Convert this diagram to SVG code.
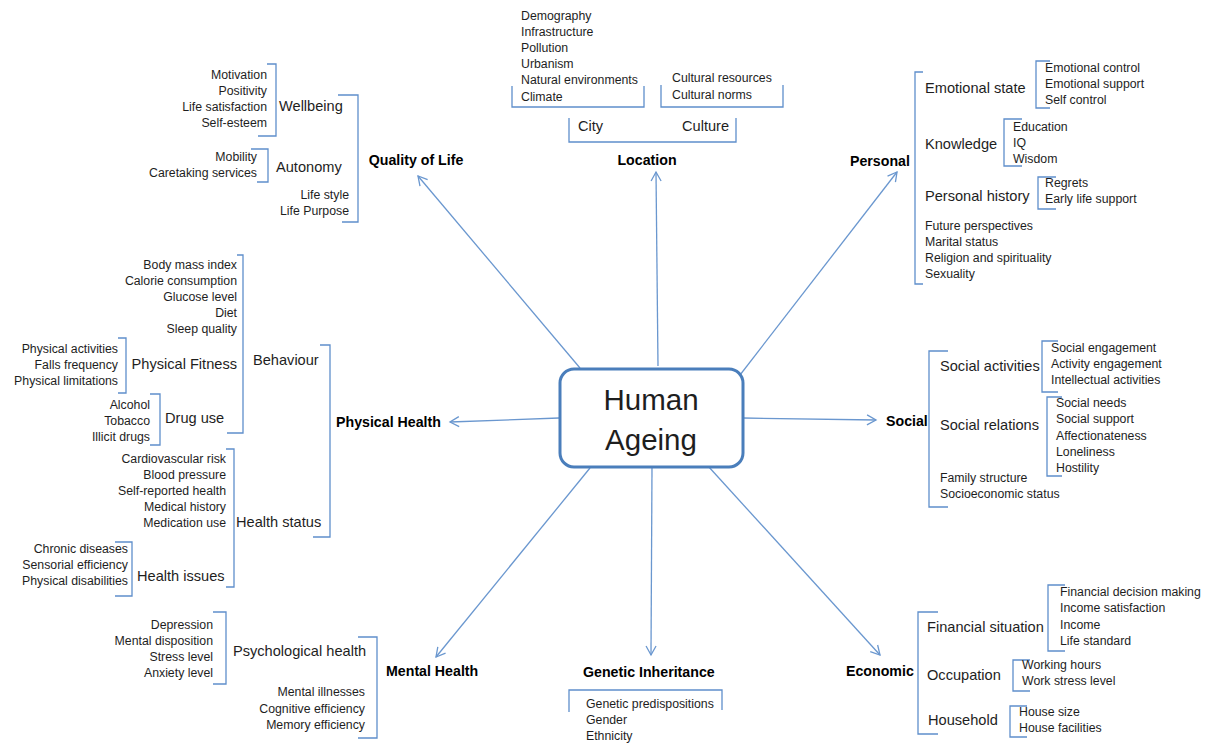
<svg xmlns="http://www.w3.org/2000/svg" width="1207" height="745" viewBox="0 0 1207 745">
<style>
text{font-family:"Liberation Sans",Arial,sans-serif;fill:#1e1e1e}
.s{font-size:12.3px}
.m{font-size:14.6px}
.b{font-size:14.2px;font-weight:bold;fill:#000}
.e{text-anchor:end}
.c{text-anchor:middle}
.br{fill:none;stroke:#5f8fcb;stroke-width:1.3}
.ar{fill:none;stroke:#6a97cf;stroke-width:1.3;marker-end:url(#ah)}
</style>
<defs>
<marker id="ah" markerWidth="12" markerHeight="12" refX="10" refY="6" orient="auto" markerUnits="userSpaceOnUse">
<path d="M1,1 L10,6 L1,11" fill="none" stroke="#6a97cf" stroke-width="1.3"/>
</marker>
</defs>
<rect width="1207" height="745" fill="#fff"/>

<g id="connectors">
<line class="ar" x1="580" y1="368" x2="418" y2="176"/>
<line class="ar" x1="658" y1="366" x2="656" y2="172"/>
<line class="ar" x1="740" y1="375" x2="897" y2="172"/>
<line class="ar" x1="559" y1="418" x2="450" y2="422"/>
<line class="ar" x1="743" y1="418" x2="876" y2="420"/>
<line class="ar" x1="590" y1="468" x2="436" y2="657"/>
<line class="ar" x1="652" y1="468" x2="651" y2="655"/>
<line class="ar" x1="708" y1="466" x2="880" y2="655"/>
</g>

<g id="center">
<rect x="560" y="369" width="183" height="98" rx="14" fill="#fff" stroke="#4a7ebb" stroke-width="3"/>
<text class="c" x="651" y="410" font-size="29.5">Human</text>
<text class="c" x="651" y="450" font-size="29.5">Ageing</text>
</g>

<g id="quality-of-life">
<text class="b c" x="416" y="165">Quality of Life</text>
<path class="br" d="M338 95 H358 V222 H342"/>
<path class="br" d="M267 64 H276 V136 H258"/>
<text class="m" x="279" y="111">Wellbeing</text>
<text class="s e" x="267" y="79">Motivation</text>
<text class="s e" x="267" y="95">Positivity</text>
<text class="s e" x="267" y="111">Life satisfaction</text>
<text class="s e" x="267" y="127">Self-esteem</text>
<path class="br" d="M251 149 H268 V182 H257"/>
<text class="m" x="276" y="172">Autonomy</text>
<text class="s e" x="257" y="161">Mobility</text>
<text class="s e" x="257" y="177">Caretaking services</text>
<text class="s e" x="349" y="199">Life style</text>
<text class="s e" x="349" y="215">Life Purpose</text>
</g>

<g id="location">
<text class="b c" x="647" y="165">Location</text>
<text class="s" x="521" y="20">Demography</text>
<text class="s" x="521" y="36">Infrastructure</text>
<text class="s" x="521" y="52">Pollution</text>
<text class="s" x="521" y="68">Urbanism</text>
<text class="s" x="521" y="84">Natural environments</text>
<text class="s" x="521" y="101">Climate</text>
<path class="br" d="M512 86 V107 H644 V86"/>
<text class="s" x="672" y="82">Cultural resources</text>
<text class="s" x="672" y="99">Cultural norms</text>
<path class="br" d="M661 85 V107 H783 V85"/>
<path class="br" d="M569 118 V142 H736 V118"/>
<text class="m" x="578" y="131">City</text>
<text class="m" x="682" y="131">Culture</text>
</g>

<g id="personal">
<text class="b" x="850" y="166">Personal</text>
<path class="br" d="M923 72 H915 V284 H923"/>
<text class="m" x="925" y="93">Emotional  state</text>
<path class="br" d="M1050 61 H1036 V108 H1050"/>
<text class="s" x="1045" y="72">Emotional control</text>
<text class="s" x="1045" y="88">Emotional support</text>
<text class="s" x="1045" y="104">Self control</text>
<text class="m" x="925" y="149">Knowledge</text>
<path class="br" d="M1022 119 H1004 V166 H1022"/>
<text class="s" x="1013" y="131">Education</text>
<text class="s" x="1013" y="147">IQ</text>
<text class="s" x="1013" y="163">Wisdom</text>
<text class="m" x="925" y="201">Personal history</text>
<path class="br" d="M1056 177 H1038 V209 H1056"/>
<text class="s" x="1045" y="187">Regrets</text>
<text class="s" x="1045" y="203">Early life support</text>
<text class="s" x="925" y="230">Future perspectives</text>
<text class="s" x="925" y="246">Marital status</text>
<text class="s" x="925" y="262">Religion and spirituality</text>
<text class="s" x="925" y="278">Sexuality</text>
</g>

<g id="physical-health">
<text class="b" x="336" y="427">Physical Health</text>
<path class="br" d="M320 345 H330 V537 H313"/>
<text class="m" x="253" y="365">Behaviour</text>
<path class="br" d="M237 255 H243 V433 H227"/>
<text class="s e" x="237" y="269">Body mass index</text>
<text class="s e" x="237" y="285">Calorie consumption</text>
<text class="s e" x="237" y="301">Glucose level</text>
<text class="s e" x="237" y="317">Diet</text>
<text class="s e" x="237" y="333">Sleep quality</text>
<text class="m e" x="237" y="369">Physical Fitness</text>
<path class="br" d="M118 338 H126 V393 H118"/>
<text class="s e" x="118" y="353">Physical activities</text>
<text class="s e" x="118" y="369">Falls frequency</text>
<text class="s e" x="118" y="385">Physical limitations</text>
<path class="br" d="M150 394 H160 V445 H150"/>
<text class="s e" x="150" y="409">Alcohol</text>
<text class="s e" x="150" y="425">Tobacco</text>
<text class="s e" x="150" y="441">Illicit drugs</text>
<text class="m" x="165" y="423">Drug use</text>
<path class="br" d="M226 449 H234 V587 H226"/>
<text class="s e" x="226" y="463">Cardiovascular risk</text>
<text class="s e" x="226" y="479">Blood pressure</text>
<text class="s e" x="226" y="495">Self-reported health</text>
<text class="s e" x="226" y="511">Medical history</text>
<text class="s e" x="226" y="527">Medication use</text>
<text class="m" x="236" y="527">Health status</text>
<path class="br" d="M115 542 H132 V596 H115"/>
<text class="s e" x="128" y="553">Chronic diseases</text>
<text class="s e" x="128" y="569">Sensorial efficiency</text>
<text class="s e" x="128" y="585">Physical disabilities</text>
<text class="m" x="137" y="581">Health issues</text>
</g>

<g id="mental-health">
<text class="b" x="386" y="676">Mental Health</text>
<path class="br" d="M213 612 H226 V684 H213"/>
<text class="s e" x="213" y="629">Depression</text>
<text class="s e" x="213" y="645">Mental disposition</text>
<text class="s e" x="213" y="661">Stress level</text>
<text class="s e" x="213" y="677">Anxiety level</text>
<text class="m" x="233" y="656">Psychological health</text>
<path class="br" d="M358 637 H377 V738 H358"/>
<text class="s e" x="365" y="696">Mental illnesses</text>
<text class="s e" x="365" y="713">Cognitive efficiency</text>
<text class="s e" x="365" y="729">Memory efficiency</text>
</g>

<g id="genetic-inheritance">
<text class="b" x="583" y="677">Genetic Inheritance</text>
<path class="br" d="M569 712 V690 H722 V710"/>
<text class="s" x="586" y="708">Genetic predispositions</text>
<text class="s" x="586" y="724">Gender</text>
<text class="s" x="586" y="740">Ethnicity</text>
</g>

<g id="social">
<text class="b" x="886" y="426">Social</text>
<path class="br" d="M948 351 H929 V507 H948"/>
<text class="m" x="940" y="371">Social activities</text>
<path class="br" d="M1058 341 H1042 V392 H1058"/>
<text class="s" x="1051" y="352">Social engagement</text>
<text class="s" x="1051" y="368">Activity engagement</text>
<text class="s" x="1051" y="384">Intellectual activities</text>
<text class="m" x="940" y="430">Social relations</text>
<path class="br" d="M1062 397 H1047 V476 H1062"/>
<text class="s" x="1056" y="407">Social needs</text>
<text class="s" x="1056" y="423">Social support</text>
<text class="s" x="1056" y="440">Affectionateness</text>
<text class="s" x="1056" y="456">Loneliness</text>
<text class="s" x="1056" y="472">Hostility</text>
<text class="s" x="940" y="482">Family structure</text>
<text class="s" x="940" y="498">Socioeconomic status</text>
</g>

<g id="economic">
<text class="b" x="846" y="676">Economic</text>
<path class="br" d="M938 612 H918 V734 H938"/>
<text class="m" x="927" y="632">Financial situation</text>
<path class="br" d="M1065 585 H1048 V651 H1065"/>
<text class="s" x="1060" y="596">Financial decision making</text>
<text class="s" x="1060" y="612">Income satisfaction</text>
<text class="s" x="1060" y="629">Income</text>
<text class="s" x="1060" y="645">Life standard</text>
<text class="m" x="927" y="680">Occupation</text>
<path class="br" d="M1030 660 H1013 V691 H1030"/>
<text class="s" x="1022" y="669">Working hours</text>
<text class="s" x="1022" y="685">Work stress level</text>
<text class="m" x="928" y="725">Household</text>
<path class="br" d="M1027 706 H1010 V737 H1027"/>
<text class="s" x="1019" y="716">House size</text>
<text class="s" x="1019" y="732">House facilities</text>
</g>
</svg>
